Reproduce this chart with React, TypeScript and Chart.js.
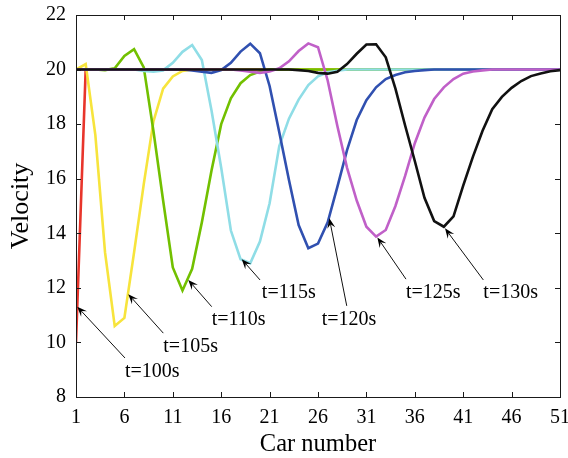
import React, { useEffect, useRef } from 'react';
import { Chart, registerables } from 'chart.js';

Chart.register(...registerables);

// ---- data ----
const CARS = [
  1, 2, 3, 4, 5, 6, 7, 8, 9, 10,
  11, 12, 13, 14, 15, 16, 17, 18, 19, 20,
  21, 22, 23, 24, 25, 26, 27, 28, 29, 30,
  31, 32, 33, 34, 35, 36, 37, 38, 39, 40,
  41, 42, 43, 44, 45, 46, 47, 48, 49, 50,
  51,
];
const X_TICKS = [1, 6, 11, 16, 21, 26, 31, 36, 41, 46, 51];
const Y_TICKS = [8, 10, 12, 14, 16, 18, 20, 22];
const SERIES_LABELS = ['t=100s', 't=105s', 't=110s', 't=115s', 't=120s', 't=125s', 't=130s'];

const V_T100 = [
  10, 20, 20, 20, 20, 20, 20, 20, 20, 20,
  20, 20, 20, 20, 20, 20, 20, 20, 20, 20,
  20, 20, 20, 20, 20, 20, 20, 20, 20, 20,
  20, 20, 20, 20, 20, 20, 20, 20, 20, 20,
  20, 20, 20, 20, 20, 20, 20, 20, 20, 20,
  20,
];
const V_T105 = [
  20, 20.2, 17.6, 13.3, 10.6, 10.9, 13.3, 15.8, 18.1, 19.3,
  19.75, 19.95, 20, 20, 20, 20, 20, 20, 20, 20,
  20, 20, 20, 20, 20, 20, 20, 20, 20, 20,
  20, 20, 20, 20, 20, 20, 20, 20, 20, 20,
  20, 20, 20, 20, 20, 20, 20, 20, 20, 20,
  20,
];
const V_T110 = [
  20, 20, 20, 19.98, 20.05, 20.5, 20.75, 20.08, 17.75, 15.2,
  12.75, 11.9, 12.7, 14.4, 16.3, 18.0, 18.95, 19.5, 19.8, 19.93,
  20, 20, 20, 20, 20, 20, 20, 20, 20, 20,
  20, 20, 20, 20, 20, 20, 20, 20, 20, 20,
  20, 20, 20, 20, 20, 20, 20, 20, 20, 20,
  20,
];
const V_T115 = [
  20, 20, 20, 20, 20, 20, 20, 19.95, 19.92, 19.97,
  20.25, 20.65, 20.9, 20.35, 18.5, 16.4, 14.1, 13.05, 12.9, 13.7,
  15.1, 17.2, 18.2, 18.9, 19.43, 19.75, 19.9, 19.96, 20, 20,
  20, 20, 20, 20, 20, 20, 20, 20, 20, 20,
  20, 20, 20, 20, 20, 20, 20, 20, 20, 20,
  20,
];
const V_T120 = [
  20, 20, 20, 20, 20, 20, 20, 20, 20, 20,
  20, 20, 19.97, 19.92, 19.88, 19.98, 20.25, 20.66, 20.95, 20.6,
  19.4, 17.7, 15.95, 14.3, 13.45, 13.62, 14.4, 15.7, 17.05, 18.15,
  18.88, 19.35, 19.65, 19.8, 19.9, 19.95, 19.98, 20, 20, 20,
  20, 20, 20, 20, 20, 20, 20, 20, 20, 20,
  20,
];
const V_T125 = [
  20, 20, 20, 20, 20, 20, 20, 20, 20, 20,
  20, 20, 20, 20, 20, 20, 20, 19.97, 19.92, 19.88,
  19.93, 20.05, 20.3, 20.68, 20.96, 20.82, 19.6, 17.93, 16.4, 15.2,
  14.24, 13.88, 14.12, 15.0, 16.1, 17.3, 18.24, 18.92, 19.35, 19.65,
  19.85, 19.93, 19.97, 20, 20, 20, 20, 20, 20, 20,
  20,
];
const V_T130 = [
  20, 20, 20, 20, 20, 20, 20, 20, 20, 20,
  20, 20, 20, 20, 20, 20, 20, 20, 20, 20,
  20, 20, 20, 19.98, 19.95, 19.88, 19.85, 19.92, 20.2, 20.58,
  20.92, 20.93, 20.45, 19.3, 17.95, 16.65, 15.3, 14.45, 14.24, 14.62,
  15.75, 16.8, 17.76, 18.55, 19.0, 19.33, 19.58, 19.76, 19.86, 19.94,
  19.98,
];
const SERIES = [V_T100, V_T105, V_T110, V_T115, V_T120, V_T125, V_T130];
const COLORS = ['#e8352b', '#f7e43c', '#72c000', '#8fdde6', '#3050b0', '#c060c8', '#111111'];

// annotation arrows: tip / tail / text anchor (left, baseline) in data units
const ANNOTATIONS = [
  { text: 't=100s', tip: [1.13, 11.31], tail: [6.06, 9.43], at: [6.06, 8.73] },
  { text: 't=105s', tip: [6.4, 11.77], tail: [10.02, 10.34], at: [10.02, 9.66] },
  { text: 't=110s', tip: [12.6, 12.29], tail: [15.02, 11.31], at: [15.02, 10.64] },
  { text: 't=115s', tip: [18.12, 13.05], tail: [20.01, 12.29], at: [20.2, 11.62] },
  { text: 't=120s', tip: [27.17, 14.55], tail: [28.97, 11.34], at: [26.38, 10.64] },
  { text: 't=125s', tip: [32.13, 13.85], tail: [35.09, 12.32], at: [35.09, 11.62] },
  { text: 't=130s', tip: [39.12, 14.18], tail: [43.08, 12.29], at: [43.08, 11.62] },
];

const FONT = 'Liberation Serif, Times New Roman, serif';

const framePlugin = {
  id: 'frameAndNotes',
  afterDatasetsDraw(chart: any) {
    const { ctx, chartArea } = chart;
    const xs = chart.scales.x;
    const ys = chart.scales.y;
    const { left, right, top, bottom } = chartArea;
    ctx.save();
    // frame
    ctx.strokeStyle = '#1a1a1a';
    ctx.lineWidth = 1;
    ctx.strokeRect(Math.round(left) + 0.5, Math.round(top) + 0.5, Math.round(right - left), Math.round(bottom - top));
    // inward ticks
    const TL = 5;
    ctx.beginPath();
    for (const v of X_TICKS) {
      const p = Math.round(xs.getPixelForValue(v)) + 0.5;
      ctx.moveTo(p, bottom);
      ctx.lineTo(p, bottom - TL);
      ctx.moveTo(p, top);
      ctx.lineTo(p, top + TL);
    }
    for (const v of Y_TICKS) {
      const p = Math.round(ys.getPixelForValue(v)) + 0.5;
      ctx.moveTo(left, p);
      ctx.lineTo(left + TL, p);
      ctx.moveTo(right, p);
      ctx.lineTo(right - TL, p);
    }
    ctx.stroke();

    // annotations
    ctx.fillStyle = '#000';
    ctx.strokeStyle = '#111';
    ctx.font = `20px ${FONT}`;
    ctx.textAlign = 'left';
    ctx.textBaseline = 'alphabetic';
    for (const a of ANNOTATIONS) {
      const tx = xs.getPixelForValue(a.tip[0]);
      const ty = ys.getPixelForValue(a.tip[1]);
      const sx = xs.getPixelForValue(a.tail[0]);
      const sy = ys.getPixelForValue(a.tail[1]);
      const dx = tx - sx;
      const dy = ty - sy;
      const len = Math.hypot(dx, dy);
      const ux = dx / len;
      const uy = dy / len;
      const nx = -uy;
      const ny = ux;
      const HL = 10;
      const HW = 4;
      ctx.lineWidth = 1;
      ctx.beginPath();
      ctx.moveTo(sx, sy);
      ctx.lineTo(tx - ux * HL * 0.6, ty - uy * HL * 0.6);
      ctx.stroke();
      ctx.beginPath();
      ctx.moveTo(tx, ty);
      ctx.lineTo(tx - ux * HL + nx * HW, ty - uy * HL + ny * HW);
      ctx.lineTo(tx - ux * HL * 0.6, ty - uy * HL * 0.6);
      ctx.lineTo(tx - ux * HL - nx * HW, ty - uy * HL - ny * HW);
      ctx.closePath();
      ctx.fill();
      ctx.fillText(a.text, xs.getPixelForValue(a.at[0]), ys.getPixelForValue(a.at[1]));
    }
    ctx.restore();
  },
};

export default function App() {
  const ref = useRef<HTMLCanvasElement | null>(null);
  useEffect(() => {
    if (!ref.current) return;
    const datasets = SERIES.map((vals, i) => ({
      label: SERIES_LABELS[i],
      data: CARS.map((c, j) => ({ x: c, y: vals[j] })),
      borderColor: COLORS[i],
      backgroundColor: COLORS[i],
      borderWidth: 2.6,
      pointRadius: 0,
      tension: 0,
      fill: false,
      order: -i,
    }));
    const chart = new Chart(ref.current, {
      type: 'line',
      data: { datasets },
      options: {
        animation: false,
        responsive: false,
        devicePixelRatio: 1,
        layout: { padding: { left: 0, right: 8, top: 15, bottom: 0 } },
        plugins: { legend: { display: false }, tooltip: { enabled: false } },
        scales: {
          x: {
            type: 'linear',
            min: 1,
            max: 51,
            afterBuildTicks: (s: any) => {
              s.ticks = X_TICKS.map((v) => ({ value: v }));
            },
            afterFit: (s: any) => {
              s.height = 61;
              s.paddingLeft = 0;
              s.paddingRight = 0;
            },
            grid: { display: false, drawTicks: false },
            border: { display: false },
            ticks: {
              autoSkip: false,
              maxRotation: 0,
              padding: 9,
              color: '#000',
              font: { family: FONT, size: 20 },
            },
            title: {
              display: true,
              text: 'Car number',
              color: '#000',
              font: { family: FONT, size: 24.5 },
              padding: { top: 0, bottom: -1 },
            },
          },
          y: {
            type: 'linear',
            min: 8,
            max: 22,
            afterBuildTicks: (s: any) => {
              s.ticks = Y_TICKS.map((v) => ({ value: v }));
            },
            afterFit: (s: any) => {
              s.width = 76;
              s.paddingTop = 0;
              s.paddingBottom = 0;
            },
            grid: { display: false, drawTicks: false },
            border: { display: false },
            ticks: {
              padding: 10,
              color: '#000',
              font: { family: FONT, size: 20 },
            },
            title: {
              display: true,
              text: 'Velocity',
              color: '#000',
              font: { family: FONT, size: 26 },
              padding: { top: 6, bottom: 0 },
            },
          },
        },
      },
      plugins: [framePlugin],
    });
    return () => chart.destroy();
  }, []);
  return (
    <div style={{ position: 'fixed', left: 0, top: 0, width: 568, height: 458, background: '#fff' }}>
      <canvas ref={ref} width={568} height={458} style={{ display: 'block' }} />
    </div>
  );
}
